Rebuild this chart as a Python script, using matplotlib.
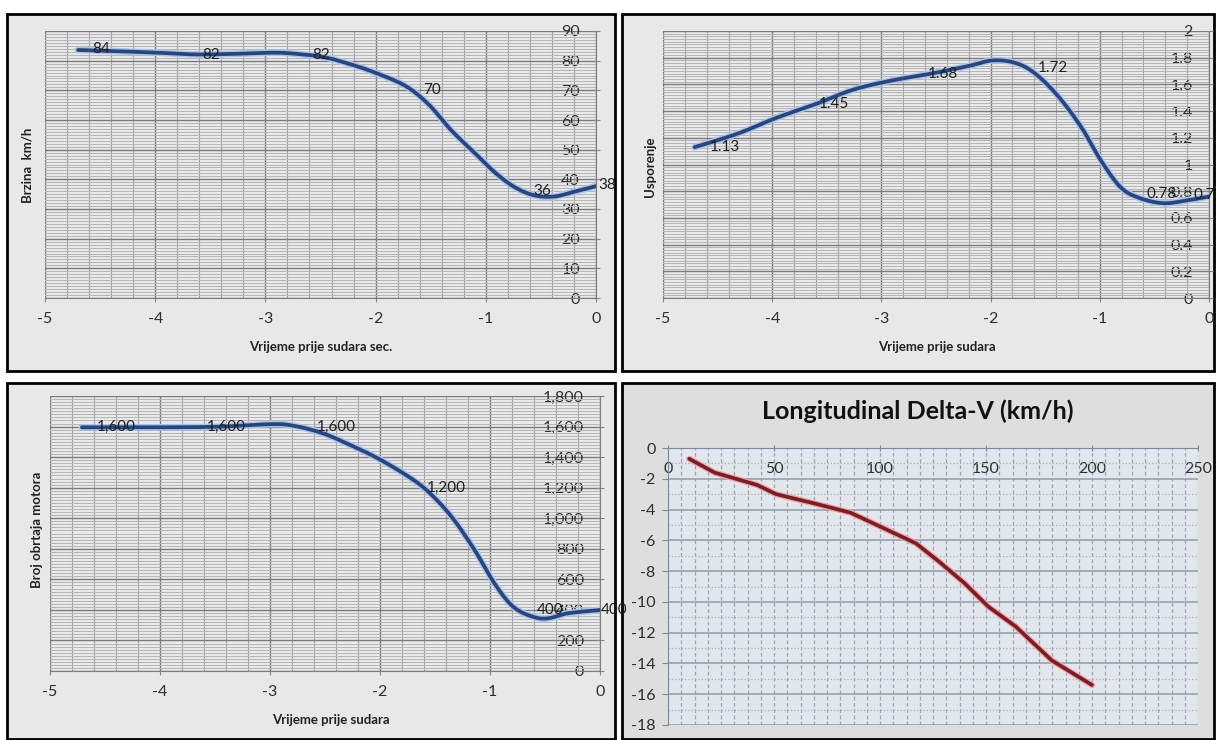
import numpy as np
import matplotlib.pyplot as plt
from matplotlib.patches import Rectangle
from matplotlib.ticker import MultipleLocator, FuncFormatter

plt.rcParams['font.family'] = ['Lato', 'DejaVu Sans']
plt.rcParams['axes.unicode_minus'] = False

W, H = 1216, 740

# ---- speed before impact (km/h), curve
t_speed = [-4.70, -4.35, -3.99, -3.64, -3.28, -2.93, -2.72, -2.47, -2.22, -2.00,
           -1.73, -1.52, -1.31, -1.09, -0.92, -0.74, -0.56, -0.38, -0.21, 0.00]
speed = [83.6, 83.2, 82.7, 82.1, 82.3, 82.7, 82.3, 81.2, 78.7, 75.9,
         71.5, 65.3, 56.4, 48.5, 42.4, 37.4, 34.6, 34.2, 35.7, 37.7]

# labelled points (same time stamps for the three time charts)
t_pts = [-4.7, -3.7, -2.7, -1.7, -0.7, 0.0]
speed_pts = [84, 82, 82, 70, 36, 38]

# ---- deceleration
t_dec = [-4.71, -4.32, -3.96, -3.61, -3.26, -2.90, -2.55, -2.19, -1.98, -1.77,
         -1.59, -1.38, -1.17, -0.99, -0.81, -0.64, -0.42, -0.21, 0.00]
dec = [1.13, 1.23, 1.35, 1.45, 1.56, 1.63, 1.68, 1.74, 1.78, 1.76,
       1.68, 1.51, 1.28, 1.03, 0.83, 0.75, 0.71, 0.73, 0.76]
dec_pts = [1.13, 1.45, 1.68, 1.72, 0.78, 0.77]

# ---- engine rpm
t_rpm = [-4.71, -4.04, -3.47, -2.98, -2.77, -2.52, -2.27, -2.02, -1.74, -1.56,
         -1.35, -1.14, -0.96, -0.79, -0.61, -0.47, -0.29, 0.00]
rpm = [1595, 1595, 1599, 1616, 1603, 1556, 1479, 1392, 1272, 1173,
       1010, 792, 574, 421, 355, 345, 378, 399]
rpm_pts = [1600, 1600, 1600, 1200, 400, 400]

# ---- longitudinal delta-V
dv_x = [10, 22, 42, 51, 69, 86, 100, 117, 128, 140, 151, 164, 181, 200]
dv_y = [-0.7, -1.6, -2.4, -3.0, -3.6, -4.2, -5.1, -6.2, -7.4, -8.8, -10.3, -11.6, -13.8, -15.4]

fig = plt.figure(figsize=(W / 100, H / 100), dpi=100)


def smooth(x, y, n=12):
    # excel-like smoothed line (catmull-rom) drawn through the read points
    p = np.column_stack([x, y]).astype(float)
    p = np.vstack([p[0], p, p[-1]])
    s = np.linspace(0, 1, n, endpoint=False)[:, None]
    out = []
    for i in range(1, len(p) - 2):
        p0, p1, p2, p3 = p[i - 1], p[i], p[i + 1], p[i + 2]
        out.append(0.5 * ((2 * p1) + (-p0 + p2) * s
                          + (2 * p0 - 5 * p1 + 4 * p2 - p3) * s ** 2
                          + (-p0 + 3 * p1 - 3 * p2 + p3) * s ** 3))
    out.append(p[-2][None, :])
    out = np.vstack(out)
    return out[:, 0], out[:, 1]


def box(l, t, r, b, fc):
    fig.add_artist(Rectangle((l / W, 1 - b / H), (r - l) / W, (b - t) / H,
                             transform=fig.transFigure, fc=fc, ec='black',
                             lw=2, zorder=-1))


def px_axes(l, t, r, b):
    return fig.add_axes([l / W, 1 - b / H, (r - l) / W, (b - t) / H])


def time_axes(ax, ymax, ymaj, fmt):
    ax.set_facecolor('#e9e9e9')
    ax.set_xlim(-5, 0)
    ax.set_ylim(0, ymax)
    ax.set_xticks(np.arange(-5, 1, 1))
    ax.xaxis.set_minor_locator(MultipleLocator(0.2))
    ax.set_yticks(np.arange(0, ymax + ymaj / 2, ymaj))
    ax.yaxis.set_minor_locator(MultipleLocator(ymaj / 10))
    ax.yaxis.set_major_formatter(fmt)
    ax.grid(which='major', color='#7c7c7c', lw=1.0)
    ax.grid(axis='x', which='minor', color='#a4a4a4', lw=0.8)
    ax.grid(axis='y', which='minor', color='#b6b6b6', lw=0.7)
    ax.set_axisbelow(True)
    ax.yaxis.tick_right()
    ax.tick_params(axis='y', which='major', direction='inout', length=6,
                   pad=-14.5, labelsize=11.5, color='#868686', labelcolor='#2e2e2e')
    ax.tick_params(axis='x', which='major', direction='out', length=3,
                   pad=7, labelsize=11.5, color='#868686', labelcolor='#2e2e2e')
    ax.tick_params(which='minor', length=0)
    plt.setp(ax.get_yticklabels(), ha='right')
    for s in ['top', 'left']:
        ax.spines[s].set_visible(False)
    for s in ['right', 'bottom']:
        ax.spines[s].set_color('#7c7c7c')


def blue_line(ax, x, y):
    sx, sy = smooth(x, y)
    ax.plot(sx, sy, color='#a9c3ea', lw=4.8, solid_capstyle='round', zorder=3)
    ax.plot(sx, sy, color='#27467f', lw=2.7, solid_capstyle='round', zorder=4)


def point_labels(ax, xs, ys, texts, last_dx):
    for i, (x, y, s) in enumerate(zip(xs, ys, texts)):
        dx = last_dx if i == len(xs) - 1 else 14
        ax.annotate(s, (x, y), xytext=(dx, 0), textcoords='offset pixels',
                    ha='left', va='center', fontsize=11, color='#1e1e1e',
                    zorder=5, annotation_clip=False)


# panel frames
box(7, 14, 615, 371, '#e8e8e8')
box(622, 14, 1214, 371, '#e8e8e8')
box(7, 383, 615, 739, '#e8e8e8')
box(622, 383, 1214, 739, '#dedede')

# speed
ax1 = px_axes(45, 31, 596, 298)
time_axes(ax1, 90, 10, FuncFormatter(lambda v, p: f'{v:.0f}'))
blue_line(ax1, t_speed, speed)
point_labels(ax1, t_pts, speed_pts, [str(v) for v in speed_pts], 2)
fig.text(28 / W, 1 - 165 / H, 'Brzina  km/h', rotation=90, ha='center',
         va='center', fontweight='bold', fontsize=9.5, color='#222222')
fig.text(321 / W, 1 - 347 / H, 'Vrijeme prije sudara sec.', ha='center',
         va='center', fontweight='bold', fontsize=9.5, color='#222222')

# deceleration
ax2 = px_axes(663, 31, 1209, 298)
time_axes(ax2, 2, 0.2, FuncFormatter(lambda v, p: f'{v:g}'))
blue_line(ax2, t_dec, dec)
point_labels(ax2, t_pts, dec_pts, [f'{v:g}' for v in dec_pts], -16)
fig.text(650 / W, 1 - 167 / H, 'Usporenje', rotation=90, ha='center',
         va='center', fontweight='bold', fontsize=9.5, color='#222222')
fig.text(937 / W, 1 - 347 / H, 'Vrijeme prije sudara', ha='center',
         va='center', fontweight='bold', fontsize=9.5, color='#222222')

# rpm
ax3 = px_axes(50, 396, 600, 671)
time_axes(ax3, 1800, 200, FuncFormatter(lambda v, p: f'{v:,.0f}'))
blue_line(ax3, t_rpm, rpm)
point_labels(ax3, t_pts, rpm_pts, [f'{v:,}' for v in rpm_pts], 1)
fig.text(37 / W, 1 - 530 / H, 'Broj obrtaja motora', rotation=90, ha='center',
         va='center', fontweight='bold', fontsize=9.5, color='#222222')
fig.text(331 / W, 1 - 720 / H, 'Vrijeme prije sudara', ha='center',
         va='center', fontweight='bold', fontsize=9.5, color='#222222')

# delta-V
ax4 = px_axes(668, 448, 1198, 725)
ax4.set_facecolor('#e2e7ee')
ax4.set_xlim(0, 250)
ax4.set_ylim(-18, 0)
ax4.set_xticks(np.arange(0, 251, 50))
ax4.xaxis.set_minor_locator(MultipleLocator(6.25))
ax4.set_yticks(np.arange(-18, 1, 2))
ax4.yaxis.set_minor_locator(MultipleLocator(1))
ax4.grid(axis='y', which='major', color='#8f9cae', lw=1.1)
ax4.grid(axis='y', which='minor', color='#a3adbb', lw=0.9, ls=':')
ax4.grid(axis='x', which='both', color='#9ba5b4', lw=0.9, ls=(0, (3, 2)))
ax4.set_axisbelow(True)
ax4.xaxis.tick_top()
ax4.tick_params(axis='x', which='major', direction='inout', length=5, pad=-12.5,
                labelsize=11.5, color='#7f8a99', labelcolor='#2e2e2e')
ax4.tick_params(axis='y', which='major', direction='out', length=4, pad=5,
                labelsize=11.5, color='#7f8a99', labelcolor='#2e2e2e')
ax4.tick_params(which='minor', length=0)
plt.setp(ax4.get_xticklabels(), va='top')
for s in ['bottom', 'right']:
    ax4.spines[s].set_visible(False)
for s in ['top', 'left']:
    ax4.spines[s].set_color('#7f8a99')
ax4.plot(dv_x, dv_y, color='#eea0a0', lw=4.4, solid_capstyle='round', zorder=3)
ax4.plot(dv_x, dv_y, color='#7c1c24', lw=2.6, solid_capstyle='round', zorder=4)
fig.text(918 / W, 1 - 411 / H, 'Longitudinal Delta-V (km/h)', ha='center',
         va='center', fontweight='bold', fontsize=18, color='#111111')

fig.savefig('out.png', dpi=100)
